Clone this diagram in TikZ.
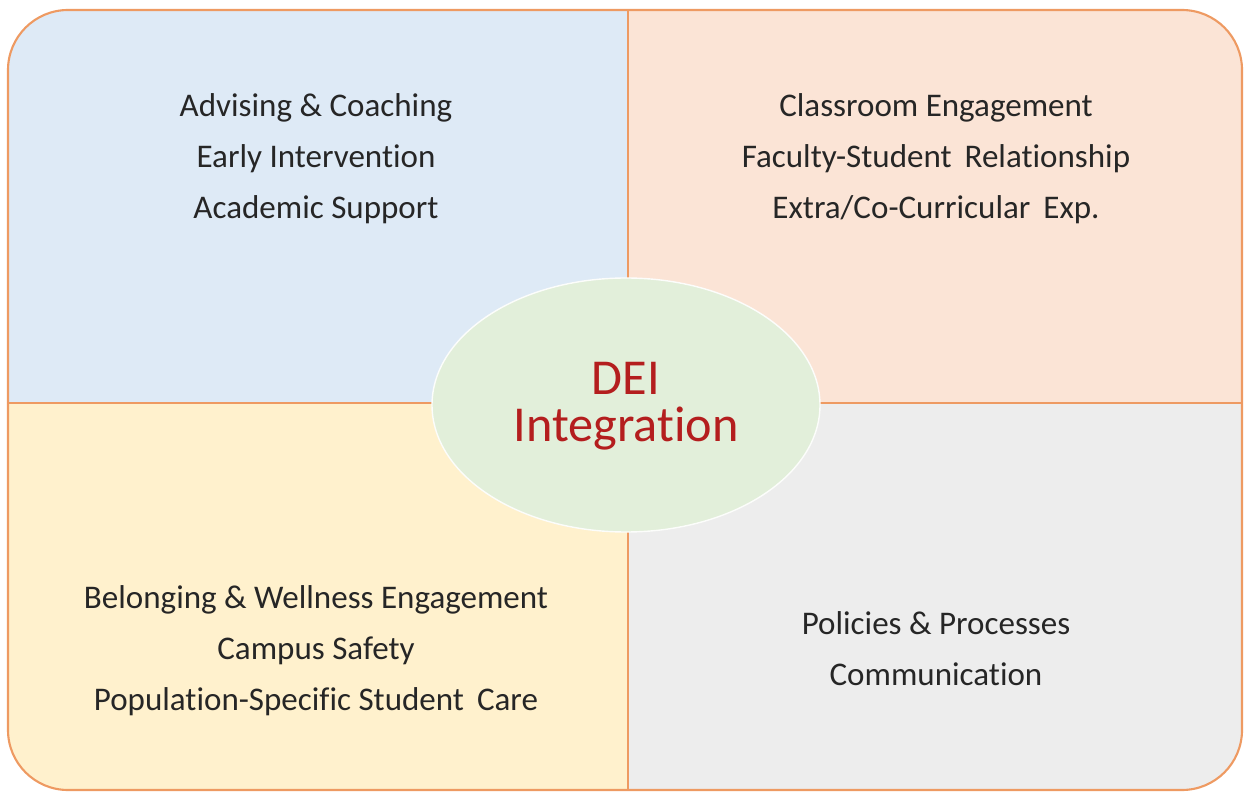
\documentclass[tikz,border=0pt]{standalone}
\usepackage{fontspec}
\setmainfont{Carlito}[Ligatures=NoCommon]
\usepackage{xcolor}
\usetikzlibrary{shapes.geometric}
\definecolor{qblue}{HTML}{DEEAF6}
\definecolor{qpeach}{HTML}{FBE4D6}
\definecolor{qyellow}{HTML}{FFF1CD}
\definecolor{qgray}{HTML}{EDEDED}
\definecolor{qgreen}{HTML}{E2EFDA}
\definecolor{qline}{HTML}{EE9A62}
\definecolor{qred}{HTML}{B41E1E}
\definecolor{qtext}{HTML}{262626}
\tikzstyle{item} = [text=qtext, font=\fontsize{18.8}{22}\selectfont]
\tikzstyle{hub} = [text=qred, font=\fontsize{28.6}{34}\selectfont]
\tikzstyle{divider} = [draw=qline, line width=1.2pt]

\begin{document}
\begin{tikzpicture}[node distance=1.02cm]
		\useasboundingbox (0,0) rectangle (24.88,15.84);
		
		% quadrants
		\begin{scope}
			\clip [rounded corners=1.2cm] (0.16,0.04) rectangle (24.84,15.64);
			\fill [qblue] (0.16,7.78) rectangle (12.56,15.64);
			\fill [qpeach] (12.56,7.78) rectangle (24.84,15.64);
			\fill [qyellow] (0.16,0.04) rectangle (12.56,7.78);
			\fill [qgray] (12.56,0.04) rectangle (24.84,7.78);
		\end{scope}
		\draw [divider] (12.56,0.04) -- (12.56,15.64);
		\draw [divider] (0.16,7.78) -- (24.84,7.78);
		\draw [divider, rounded corners=1.2cm] (0.16,0.04) rectangle (24.84,15.64);
		
		\node (1adv) [item] at (6.32,13.68) {Advising \& Coaching};
		\node (1early) [item, below of=1adv] {Early Intervention};
		\node (1acad) [item, below of=1early] {Academic Support};
		
		\node (2class) [item] at (18.72,13.68) {Classroom Engagement};
		\node (2fac) [item, below of=2class] {Faculty-Student\, Relationship};
		\node (2extra) [item, below of=2fac] {Extra/Co-Curricular\, Exp.};
		
		\node (3belong) [item] at (6.32,3.84) {Belonging \& Wellness Engagement};
		\node (3safe) [item, below of=3belong] {Campus Safety};
		\node (3pop) [item, below of=3safe] {Population-Specific Student\, Care};
		
		\node (4pol) [item] at (18.72,3.38) {Policies \& Processes};
		\node (4comm) [item, below of=4pol] {Communication};
		
		\node (dei) [ellipse, fill=qgreen, draw=white!90!qgreen, line width=0.8pt,
			minimum width=7.76cm, minimum height=5.08cm, inner sep=0pt] at (12.52,7.74) {};
		\node (deitop) [hub] at (12.52,8.28) {DEI};
		\node (deibot) [hub, below of=deitop] {Integration};
	\end{tikzpicture}
\end{document}
